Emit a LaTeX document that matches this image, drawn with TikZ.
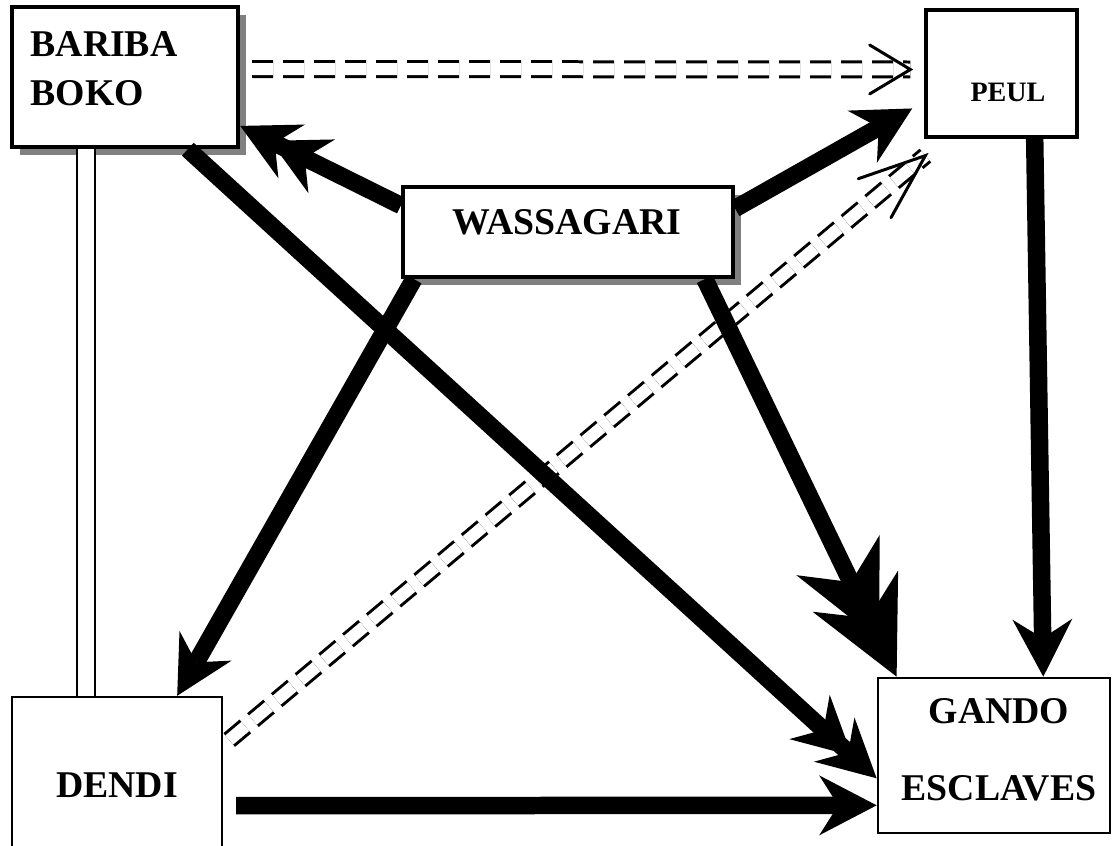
\documentclass[tikz,border=0pt]{standalone}
\usepackage{fontspec}
\setmainfont{Liberation Serif}
\usetikzlibrary{arrows.meta}
\usetikzlibrary{calc}
\usetikzlibrary{shadows}
\newcommand{\openHead}[4]{%%
  %% Open tip of a dashed pair: tip, start, barb length, barb angle.
  \draw[headStyle] ($(#1)!#3!#4:(#2)$) -- (#1) -- ($(#1)!#3!-#4:(#2)$);
}

\begin{document}
\begin{tikzpicture}[%%
  x=0.02cm,y=-0.02cm,%%
  boxStyle/.style={draw,fill=white,inner sep=0pt},%%
  shadowStyle/.style={drop shadow={shadow xshift=0.16cm,shadow yshift=-0.16cm,fill=black!50,opacity=1}},%%
  textStyle/.style={font=\bfseries\fontsize{21.5}{27.9}\selectfont,inner sep=0pt},%%
  arrowStyle/.style={line width=0.35cm,-{Stealth[length=1.15cm,width=1.2cm,inset=0.38cm,line width=0pt]}},%%
  doubleArrowStyle/.style={line width=0.35cm,-{Stealth[length=1.15cm,width=1.2cm,inset=0.38cm,line width=0pt,sep=-0.48cm] Stealth[length=1.15cm,width=1.2cm,inset=0.38cm,line width=0pt]}},%%
  bigDoubleArrowStyle/.style={line width=0.35cm,-{Stealth[length=1.9cm,width=1.85cm,inset=0.6cm,line width=0pt,sep=-1.1cm] Stealth[length=1.9cm,width=1.9cm,inset=0.6cm,line width=0pt]}},%%
  dashPairStyle/.style={double,double distance=0.24cm,line width=0.06cm,dash pattern=on 0.42cm off 0.2cm},%%
  headStyle/.style={line width=0.06cm,line cap=round},%%
  twinStyle/.style={double,double distance=0.31cm,line width=0.05cm}
]
%%
%% The page.
\fill[white] (0,0) rectangle (1112,845);
\useasboundingbox (0,0) rectangle (1112,845);
%%
%% The boxes.
\node[boxStyle,shadowStyle,line width=0.09cm,minimum width=4.52cm,minimum height=2.8cm] (bariba) at (125,77) {};
\node[boxStyle,line width=0.065cm,minimum width=3.02cm,minimum height=2.54cm] (peul) at (1001.5,73.5) {};
\node[boxStyle,shadowStyle,line width=0.085cm,minimum width=6.6cm,minimum height=1.8cm] (wass) at (568,232) {};
\node[boxStyle,textStyle,line width=0.05cm,minimum width=4.2cm,minimum height=3.52cm] (dendi) at (117,785) {DENDI};
\node[boxStyle,line width=0.055cm,minimum width=4.64cm,minimum height=3.1cm] (gando) at (994,755.5) {};
%%
%% The labels.
\node[textStyle,align=left] (baribaLabel) at (104,69) {BARIBA\\BOKO};
\node[textStyle,font=\bfseries\fontsize{16}{19}\selectfont] (peulLabel) at (1008,92) {PEUL};
\node[textStyle] (wassLabel) at (567,222) {WASSAGARI};
\node[textStyle,font=\bfseries\fontsize{21.5}{43.8}\selectfont,align=center] (gandoLabel) at (999,750) {GANDO\\ESCLAVES};
%%
%% The double line.
\coordinate (twinX) at (86,0);
\draw[twinStyle] (bariba.south -| twinX) -- (dendi.north -| twinX);
%%
%% The dashed pairs.
\coordinate (bpStart) at ([shift={(12,-8)}]bariba.east);
\coordinate (bpTip) at ([shift={(-14,-4)}]peul.west);
\coordinate (dpStart) at ([shift={(6,-45)}]dendi.east);
\coordinate (dpTip) at ([shift={(1,17)}]peul.south west);
\draw[dashPairStyle] (bpStart) -- (bpTip);
\openHead{bpTip}{bpStart}{0.95cm}{31}
\draw[dashPairStyle] (dpStart) -- (dpTip);
\openHead{dpTip}{dpStart}{1.42cm}{21}
%%
%% The thick arrows.
\draw[doubleArrowStyle] (wass.171) -- (bariba.-23);
\draw[arrowStyle,shorten >=0.28cm] (wass.8) -- (peul.200);
\draw[arrowStyle] (wass.197) -- (dendi.56);
\draw[bigDoubleArrowStyle] (wass.-19) -- (gando.141);
\draw[doubleArrowStyle] (bariba.-49) -- (gando.191);
\draw[arrowStyle] (peul.-63) -- (gando.58);
\draw[arrowStyle,shorten <=0.26cm] (dendi.-11) -- (gando.203);
\end{tikzpicture}
\end{document}
